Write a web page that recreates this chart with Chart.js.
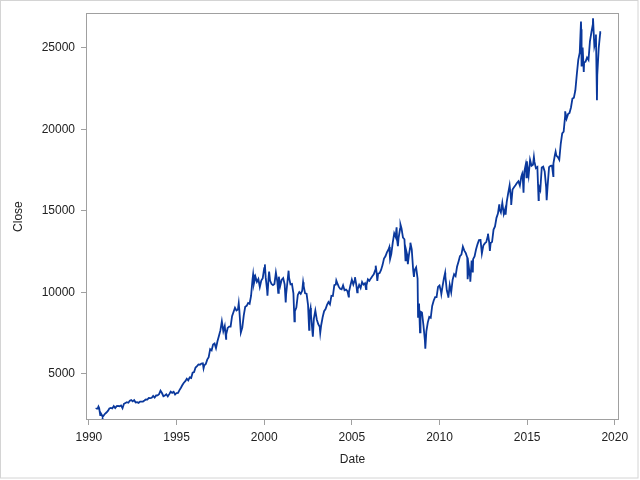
<!DOCTYPE html>
<html>
<head>
<meta charset="utf-8">
<script src="https://cdn.jsdelivr.net/npm/chart.js@4"></script>
<style>
  html, body { margin: 0; padding: 0; background: #fff; }
  #wrap { width: 640px; height: 480px; }
</style>
</head>
<body>
<div id="wrap"><canvas id="chart" width="640" height="480"></canvas></div>
<script>
const firstMonth = [1990, 5];
const monthCloses = [
  2877, 2881, 2905, 2614, 2453, 2442, 2560, 2634,
  2736, 2882, 2914, 2888, 3028, 2907, 3025, 3044, 3017, 3069, 2895, 3169,
  3224, 3267, 3236, 3359, 3397, 3319, 3394, 3257, 3272, 3226, 3306, 3301,
  3310, 3370, 3435, 3428, 3527, 3516, 3540, 3651, 3555, 3681, 3684, 3754,
  3978, 3832, 3636, 3682, 3758, 3625, 3765, 3913, 3843, 3908, 3739, 3834,
  3844, 4011, 4158, 4321, 4465, 4556, 4709, 4611, 4789, 4756, 5075, 5117,
  5395, 5486, 5588, 5569, 5643, 5655, 5529, 5616, 5882, 6029, 6522, 6448,
  6813, 6878, 6584, 7009, 7331, 7673, 8223, 7622, 7945, 7442, 7823, 7908,
  7907, 8546, 8800, 9063, 8900, 8952, 8883, 7539, 7843, 8592, 9117, 9181,
  9359, 9307, 9786, 10789, 10560, 10971, 10655, 10829, 10337, 10729, 10878, 11497,
  10941, 10128, 10922, 10734, 10522, 10448, 10522, 11215, 10651, 10971, 10415, 10788,
  10887, 10495, 9879, 10735, 10912, 10502, 10523, 9950, 8848, 9075, 9852, 10022,
  9920, 10106, 10404, 9946, 9925, 9243, 8737, 8664, 7592, 8397, 8896, 8342,
  8054, 7891, 7992, 8480, 8850, 8985, 9234, 9416, 9275, 9801, 9782, 10454,
  10488, 10584, 10358, 10226, 10188, 10435, 10140, 10174, 10080, 10027, 10428, 10783,
  10490, 10766, 10504, 10193, 10467, 10275, 10641, 10482, 10569, 10440, 10806, 10718,
  10865, 10993, 11109, 11367, 11168, 11150, 11186, 11381, 11679, 12081, 12221, 12463,
  12622, 12269, 12354, 13063, 13628, 13409, 13212, 13358, 13896, 13930, 13372, 13265,
  12650, 12266, 12263, 12820, 12638, 11350, 11378, 11544, 10851, 9325, 8829, 8776,
  8001, 7063, 7609, 8168, 8500, 8447, 9172, 9496, 9712, 9713, 10345, 10428,
  10067, 10325, 10857, 11009, 10137, 9774, 10466, 10015, 10788, 11118, 11006, 11578,
  11892, 12226, 12320, 12811, 12570, 12414, 12143, 11614, 10913, 11955, 12046, 12218,
  12633, 12952, 13212, 13214, 12393, 12880, 13009, 13091, 13437, 13096, 13026, 13104,
  13861, 14054, 14579, 14840, 15116, 14910, 15500, 14810, 15130, 15546, 16086, 16577,
  15699, 16322, 16458, 16581, 16717, 16827, 16563, 17098, 17043, 17391, 17828, 17823,
  17165, 18133, 17776, 17841, 18011, 17620, 17690, 16528, 16285, 17664, 17720, 17425,
  16466, 16517, 17685, 17774, 17787, 17930, 18432, 18401, 18308, 18142, 19124, 19763,
  19864, 20812, 20663, 20941, 21009, 21350, 21891, 21948, 22405, 23377, 24272, 24719,
  26149, 25029, 24103, 24163, 24416, 24271, 25415, 25965, 26458, 25116, 25538, 23327,
  24999, 25916
];

const swingDates = [
  '1990-05-25', '1990-07-16', '1990-08-23', '1990-10-11', '1996-07-15', '1997-10-27',
  '1998-07-17', '1999-05-13', '2000-01-14', '2000-03-07', '2000-04-11', '2000-10-18',
  '2001-03-22', '2001-05-21', '2001-09-21', '2002-03-19', '2002-07-23', '2002-08-22',
  '2002-10-09', '2003-03-11', '2004-02-11', '2004-10-25', '2005-03-04', '2005-04-20',
  '2005-10-21', '2006-05-10', '2006-06-13', '2007-02-20', '2007-03-05', '2007-07-19',
  '2007-08-16', '2007-10-09', '2008-01-22', '2008-03-10', '2008-05-02', '2008-07-15',
  '2008-10-10', '2008-11-20', '2009-03-09', '2010-02-08', '2010-04-26', '2010-07-02',
  '2011-08-08', '2011-10-03', '2011-11-25', '2012-05-01', '2012-10-05', '2012-11-15',
  '2013-05-28', '2013-10-08', '2014-02-03', '2014-09-19', '2014-10-16', '2014-12-16',
  '2014-12-26', '2015-05-19', '2015-08-25', '2016-02-11', '2016-06-27', '2016-08-15',
  '2017-03-01', '2018-01-26', '2018-02-08', '2018-03-23', '2018-10-03', '2018-12-03',
  '2018-12-24', '2019-03-01'
];
const swingCloses = [
  2855, 2999, 2483, 2365, 5349, 7161,
  9338, 11107, 11723, 9796, 11287, 9975,
  9389, 11337, 8236, 10635, 7702, 9053,
  7286, 7524, 10737, 9750, 10940, 10012,
  10215, 11642, 10706, 12786, 12050, 14000,
  12846, 14165, 11971, 11740, 13058, 10963,
  8451, 7552, 6547, 9908, 11205, 9686,
  10810, 10655, 11231, 13279, 13610, 12543,
  15409, 14776, 15373, 17280, 16117, 17068,
  18053, 18312, 15666, 15660, 17140, 18636,
  21115, 26617, 23860, 23533, 26828, 25826,
  21792, 26026
];

const xTicks = [1990, 1995, 2000, 2005, 2010, 2015, 2020];
const yTicks = [5000, 10000, 15000, 20000, 25000];

// build points in decimal years
const points = [];
monthCloses.forEach((v, i) => {
  const m = firstMonth[1] - 1 + i;          // months since Jan of first year
  points.push({ x: firstMonth[0] + (m + 1) / 12, y: v }); // month end
});
swingDates.forEach((d, i) => {
  const [y, m, day] = d.split('-').map(Number);
  points.push({ x: y + (m - 1) / 12 + day / 365, y: swingCloses[i] });
});
points.sort((a, b) => a.x - b.x);

const FONT = { family: '"Liberation Sans", Arial, sans-serif', size: 12 };
const TEXT = '#222';
const AXIS = '#a0a0a0';

// frame around plot area and round the picture
const framePlugin = {
  id: 'frame',
  afterDraw(chart) {
    const { ctx, chartArea: a } = chart;
    ctx.save();
    ctx.lineWidth = 1;
    ctx.strokeStyle = AXIS;
    ctx.strokeRect(Math.round(a.left) + 0.5, Math.round(a.top) + 0.5,
      Math.round(a.right - a.left) - 1, Math.round(a.bottom - a.top) - 1);
    ctx.strokeStyle = '#d4d4d4';
    ctx.strokeRect(0.5, 0.5, 637.5, 477.5);
    ctx.restore();
  }
};

new Chart(document.getElementById('chart'), {
  type: 'line',
  data: {
    datasets: [{
      label: 'Close',
      data: points,
      borderColor: '#0a389c',
      borderWidth: 1.8,
      pointRadius: 0,
      tension: 0,
      fill: false
    }]
  },
  options: {
    responsive: false,
    animation: false,
    parsing: true,
    layout: { padding: { top: 11, right: 21, left: 0, bottom: 0 } },
    plugins: {
      legend: { display: false },
      tooltip: { enabled: false }
    },
    scales: {
      x: {
        type: 'linear',
        min: 1989.834,
        max: 2020.24,
        afterBuildTicks: (s) => { s.ticks = xTicks.map(v => ({ value: v })); },
        afterFit: (s) => { s.height = 60; },
        ticks: {
          color: TEXT, font: FONT, padding: 5, maxRotation: 0,
          callback: (v) => String(v)
        },
        grid: { drawOnChartArea: false, drawTicks: true, tickLength: 5, color: AXIS },
        border: { display: false },
        title: { display: true, text: 'Date', color: TEXT, font: FONT, padding: { top: 0, bottom: 13 } }
      },
      y: {
        type: 'linear',
        min: 2177,
        max: 27134,
        afterBuildTicks: (s) => { s.ticks = yTicks.map(v => ({ value: v })); },
        afterFit: (s) => { s.width = 86; },
        ticks: {
          color: TEXT, font: FONT, padding: 6,
          callback: (v) => String(v)
        },
        grid: { drawOnChartArea: false, drawTicks: true, tickLength: 5, color: AXIS },
        border: { display: false },
        title: { display: true, text: 'Close', color: TEXT, font: FONT, padding: { top: 11, bottom: 0 } }
      }
    }
  },
  plugins: [framePlugin]
});
</script>
</body>
</html>
